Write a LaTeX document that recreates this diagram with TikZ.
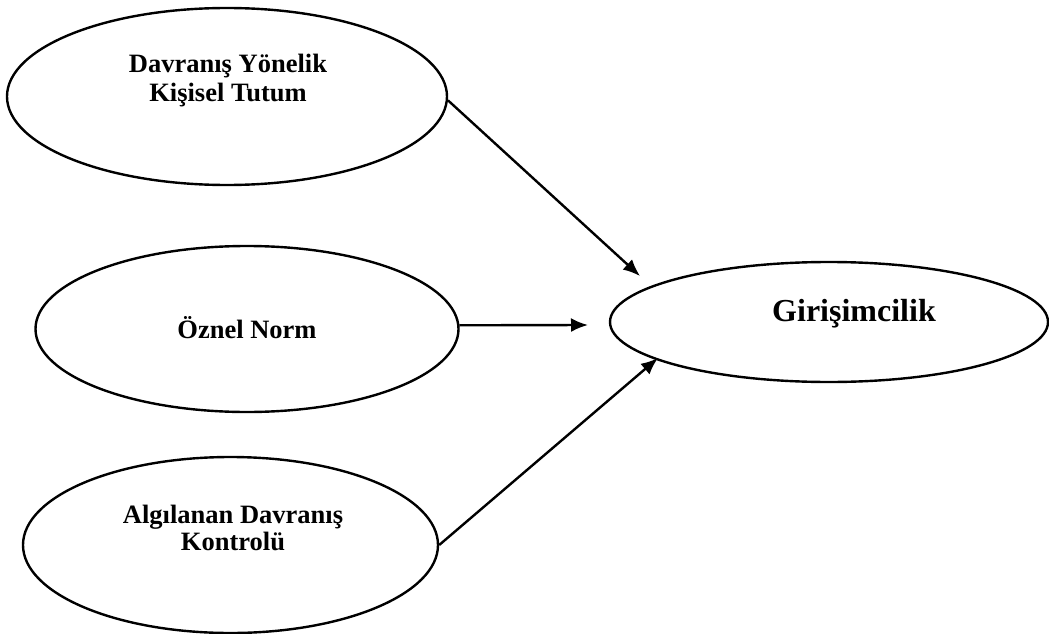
\documentclass[tikz,border=0pt]{standalone}
\usepackage{fontspec}
\setmainfont{Liberation Serif}
\usetikzlibrary{shapes.geometric,arrows.meta}
\tikzset{
  oval/.style={draw=black, line width=2.4pt, ellipse, inner sep=0pt},
  lbl/.style={font=\bfseries\fontsize{26.5}{29}\selectfont, anchor=base, inner sep=0pt},
  biglbl/.style={font=\bfseries\fontsize{32}{36}\selectfont, anchor=base, inner sep=0pt},
  conn/.style={line width=2.4pt, -{Latex[length=17pt,width=14pt]}}
}
\begin{document}
\begin{tikzpicture}[x=1pt,y=-1pt]
\useasboundingbox[fill=white] (0,0) rectangle (1049,634);
% ellipses
\node[oval, minimum width=440pt, minimum height=177pt] (e1) at (227,96.5) {};
\node[oval, minimum width=423pt, minimum height=166pt] (e2) at (247,329) {};
\node[oval, minimum width=415pt, minimum height=176pt] (e3) at (230.5,545) {};
\node[oval, minimum width=438pt, minimum height=120pt] (e4) at (829,322) {};
% texts
\node[lbl] (t1a) at (228,72) {Davranış Yönelik};
\node[lbl] (t1b) at (228,101) {Kişisel Tutum};
\node[lbl] (t2) at (247,338) {Öznel Norm};
\node[lbl] (t3a) at (233,523) {Algılanan Davranış};
\node[lbl] (t3b) at (233,550) {Kontrolü};
\node[biglbl] (t4) at (854,321) {Girişimcilik};
% arrow tips
\coordinate (p1) at (640,276);
\coordinate (p2) at (588,325);
\coordinate (p3) at (658,358);
% connectors
\draw[conn] (e1.-1.2) -- (p1);
\draw[conn] (e2.1) -- (p2);
\draw[conn] (e3.east) -- (p3);
\end{tikzpicture}
\end{document}
